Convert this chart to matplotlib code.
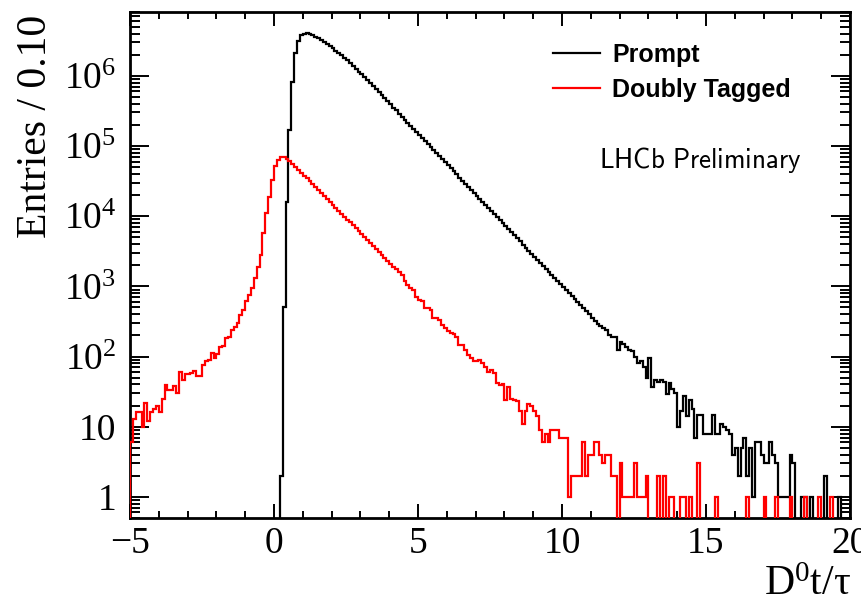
import numpy as np
import matplotlib
matplotlib.use("Agg")
import matplotlib.pyplot as plt
from matplotlib.font_manager import FontProperties
from matplotlib.lines import Line2D
from matplotlib.ticker import FixedLocator, LogLocator, FuncFormatter, NullFormatter

plt.rcParams['font.family'] = ['Liberation Serif', 'DejaVu Serif']
plt.rcParams['mathtext.fontset'] = 'custom'
plt.rcParams['mathtext.rm'] = 'Liberation Serif'
plt.rcParams['mathtext.it'] = 'Liberation Serif:italic'

# decay time binning, 0.1 wide bins from -5 to 20
bin_edges = np.linspace(-5, 20, 251)

# entries per bin, one row per unit of t/tau
prompt_counts = [
    0, 0, 0, 0, 0, 0, 0, 0, 0, 0,                                   # -5 .. -4
    0, 0, 0, 0, 0, 0, 0, 0, 0, 0,                                   # -4 .. -3
    0, 0, 0, 0, 0, 0, 0, 0, 0, 0,                                   # -3 .. -2
    0, 0, 0, 0, 0, 0, 0, 0, 0, 0,                                   # -2 .. -1
    0, 0, 0, 0, 0, 0, 0, 0, 0, 0,                                   # -1 .. 0
    0, 0, 2, 510, 1.6e4, 1.7e5, 8.2e5, 2.1e6, 3.1e6, 3.8e6,         # 0 .. 1
    4.0e6, 4.1e6, 3.98e6, 3.80e6, 3.61e6, 3.43e6, 3.23e6, 3.04e6, 2.84e6, 2.65e6,
    2.47e6, 2.29e6, 2.12e6, 1.95e6, 1.79e6, 1.65e6, 1.51e6, 1.38e6, 1.26e6, 1.15e6,
    1.05e6, 9.5e5, 8.6e5, 7.85e5, 7.1e5, 6.43e5, 5.82e5, 5.27e5, 4.77e5, 4.31e5,
    3.90e5, 3.53e5, 3.20e5, 2.89e5, 2.62e5, 2.37e5, 2.14e5, 1.94e5, 1.76e5, 1.59e5,
    1.44e5, 1.30e5, 1.18e5, 1.06e5, 9.63e4, 8.72e4, 7.89e4, 7.14e4, 6.46e4, 5.85e4,
    5.29e4, 4.79e4, 4.33e4, 3.92e4, 3.55e4, 3.21e4, 2.91e4, 2.63e4, 2.38e4, 2.15e4,
    1.95e4, 1.76e4, 1.60e4, 1.44e4, 1.31e4, 1.18e4, 1.07e4, 9690, 8770, 7940,
    7180, 6500, 5880, 5320, 4820, 4360, 3940, 3570, 3230, 2920,
    2650, 2390, 2170, 1960, 1770, 1600, 1450, 1310, 1190, 1080,
    975, 882, 798, 722, 654, 592, 535, 484, 438, 397,               # 10 .. 11
    359, 325, 294, 270, 255, 235, 205, 192, 188, 124,
    163, 150, 138, 125, 120, 100, 80, 85, 72, 49,
    95, 37, 46, 44, 46, 43, 29, 42, 35, 30,
    10, 17, 27, 14, 24, 18, 7, 14.5, 14.5, 8,
    8, 8, 14.5, 8, 8, 11, 10, 9, 8, 4,                              # 15 .. 16
    5, 2, 5, 7, 2, 5, 1, 6, 6, 4,
    3, 3, 6, 4, 3, 1, 1, 1, 1, 4,
    3, 0, 0, 1, 1, 0, 1, 0, 0, 0,
    0, 2, 0, 0, 0, 0, 1, 0, 0, 0,                                   # 19 .. 20
]

doubly_tagged_counts = [
    6, 13, 16, 16, 10, 22, 12, 16, 18, 20,                          # -5 .. -4
    16, 25, 39, 33, 33, 38, 30, 61, 46, 56,
    57, 58, 62, 52, 52, 76, 85, 88, 114, 94,
    110, 138, 140, 182, 190, 239, 267, 298, 391, 461,
    620, 760, 950, 1300, 1900, 2800, 5700, 1.1e4, 1.9e4, 3.3e4,     # -1 .. 0
    5.1e4, 6.3e4, 7.0e4, 6.9e4, 6.6e4, 6.14e4, 5.58e4, 5.07e4, 4.60e4, 4.18e4,
    3.79e4, 3.45e4, 3.13e4, 2.84e4, 2.58e4, 2.34e4, 2.13e4, 1.93e4, 1.75e4, 1.59e4,
    1.45e4, 1.31e4, 1.19e4, 1.08e4, 9850, 8940, 8120, 7380, 6700, 6080,
    5520, 5010, 4550, 4140, 3760, 3410, 3100, 2810, 2550, 2320,
    2110, 1910, 1740, 1580, 1430, 1200, 1050, 940, 900, 713,
    640, 620, 487, 487, 460, 351, 351, 330, 282, 253,               # 5 .. 6
    230, 215, 210, 192, 147, 147, 125, 105, 95, 85,
    85, 89, 80, 72, 61, 65, 58, 42, 39, 40,
    24, 37, 25, 24, 23, 17, 11, 17, 21, 20,
    17, 14, 9, 6, 8, 6, 9, 9, 9, 7,
    7, 7, 1, 2, 2, 2, 2, 6, 2, 4,                                   # 10 .. 11
    4, 6, 6, 4, 3, 4, 4, 2, 2, 0,
    3, 1, 1, 1, 1, 3, 1, 1, 1, 2,
    0, 0, 0, 2, 0, 2, 0, 1, 1, 0,
    0, 1, 1, 0, 1, 0, 0, 3, 0, 0,
    0, 0, 0, 1, 0, 0, 0, 0, 0, 0,                                   # 15 .. 16
    0, 0, 0, 0, 1, 0, 0, 0, 0, 0,
    1, 0, 0, 0, 1, 0, 0, 0, 0, 1,
    0, 0, 0, 0, 1, 0, 0, 0, 0, 1,
    0, 0, 0, 1, 0, 0, 0, 0, 0, 0,                                   # 19 .. 20
]

x_major = [-5, 0, 5, 10, 15, 20]
y_min, y_max = 0.5, 8.1e6
floor = 1e-2   # empty bins are drawn below the frame, like ROOT does


def log_label(v, pos):
    if v == 1:
        return '1'
    if v == 10:
        return '10'
    return r'$\mathrm{10^{%d}}$' % round(np.log10(v))


fig = plt.figure(figsize=(8.61, 6.09), dpi=100)
ax = fig.add_axes([0.151, 0.1494, 0.8362, 0.8309])

prompt = np.where(np.array(prompt_counts) > 0, prompt_counts, floor)
dtag = np.where(np.array(doubly_tagged_counts) > 0, doubly_tagged_counts, floor)

ax.stairs(prompt, bin_edges, baseline=floor, color='black', lw=1.6, zorder=3)
ax.stairs(dtag, bin_edges, baseline=floor, color='#ff0000', lw=1.6, zorder=4)

ax.set_yscale('log')
ax.set_xlim(-5, 20)
ax.set_ylim(y_min, y_max)

ax.xaxis.set_major_locator(FixedLocator(x_major))
ax.xaxis.set_minor_locator(FixedLocator(np.arange(-5, 21, 1)))
ax.yaxis.set_major_locator(LogLocator(base=10, numticks=12))
ax.yaxis.set_minor_locator(LogLocator(base=10, subs=range(2, 10), numticks=12))
ax.yaxis.set_major_formatter(FuncFormatter(log_label))
ax.yaxis.set_minor_formatter(NullFormatter())

ax.tick_params(which='both', direction='in', top=True, right=True,
               width=1.4, labelsize=27)
ax.tick_params(axis='x', which='major', length=10, pad=6)
ax.tick_params(axis='x', which='minor', length=5)
ax.tick_params(axis='y', which='major', length=14, pad=10)
ax.tick_params(axis='y', which='minor', length=7)
for s in ax.spines.values():
    s.set_linewidth(2)

handles = [Line2D([], [], color='black', lw=1.6),
           Line2D([], [], color='#ff0000', lw=1.6)]
ax.legend(handles, ['Prompt', 'Doubly Tagged'], loc='upper left',
          bbox_to_anchor=(0.5875, 0.9387), frameon=False, borderpad=0,
          borderaxespad=0, handlelength=1.88, handletextpad=0.48,
          labelspacing=0.43,
          prop=FontProperties(family='Liberation Sans', weight='bold', size=18))

ax.text(0.651, 0.7075, r'$\mathsf{LHCb\ Preliminary}$', transform=ax.transAxes,
        ha='left', va='center',
        fontproperties=FontProperties(size=19.5, math_fontfamily='cm'))

fig.text(36 / 861, 1 - 15 / 609, 'Entries / 0.10', rotation=90,
         ha='center', va='top', fontsize=30)
fig.text(851 / 861, 1 - 585 / 609, r'D$^{0}$t/τ', ha='right', va='center',
         fontsize=30)

fig.savefig('out.png', dpi=100)
